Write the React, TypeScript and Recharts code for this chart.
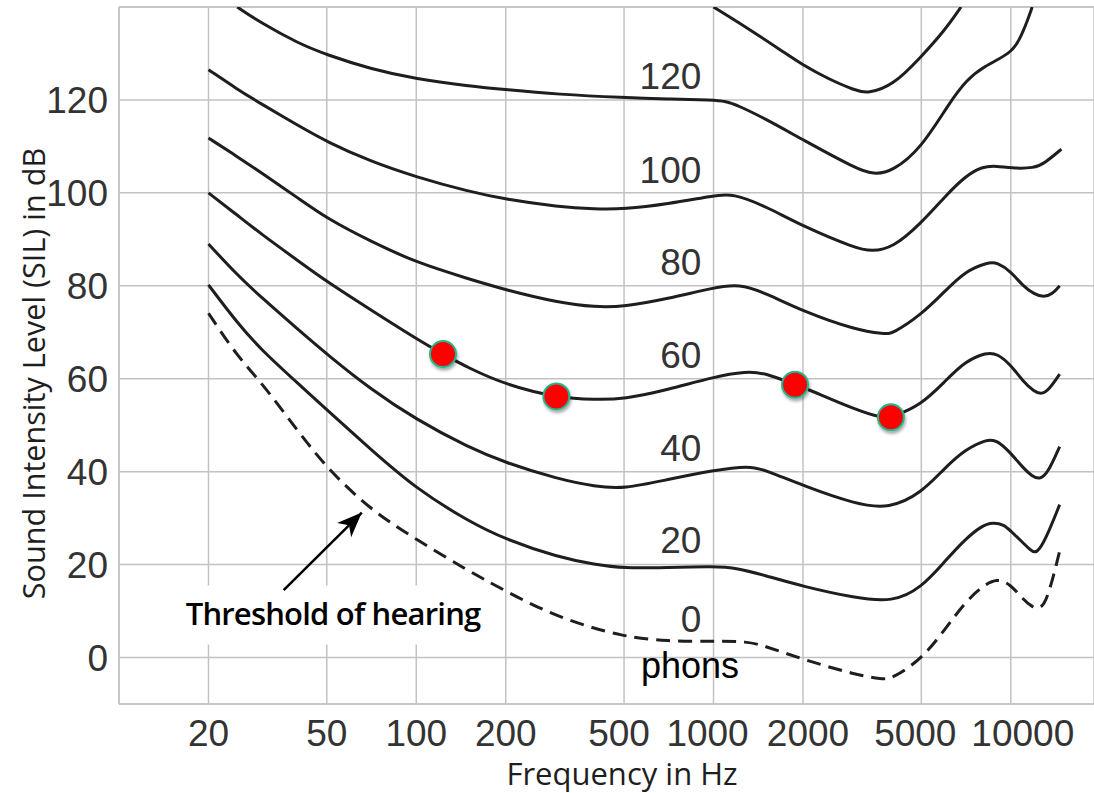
import {
  CartesianGrid,
  ComposedChart,
  Line,
  ReferenceArea,
  ReferenceLine,
  Scatter,
  XAxis,
  YAxis,
} from "recharts";

// frequency (Hz) and level (dB), one list per contour
const FREQ_TICKS = [20, 50, 100, 200, 500, 1000, 2000, 5000, 10000];
const DB_TICKS = [0, 20, 40, 60, 80, 100, 120];

const phon140: [number, number][] = [
  [1000, 140], [1300, 135.5], [1750, 130], [2000, 127.5], [2400, 124.7], [3000, 122],
  [3300, 121.4], [4000, 123], [5000, 129.3], [6000, 135], [6800, 140],
];
const phon120: [number, number][] = [
  [25, 140], [30, 136.6], [40, 132.2], [50, 129.7], [70, 126.7], [100, 124.5], [150, 123],
  [200, 122.2], [300, 121.2], [500, 120.5], [700, 120.2], [1000, 120], [1100, 119.7],
  [1200, 118.9], [1500, 115.9], [2000, 111.4], [3000, 105.3], [3450, 103.9], [4000, 104.6],
  [5000, 109.6], [6200, 119.3], [7100, 124.3], [8100, 127.2], [10000, 130], [10700, 132.9],
  [11400, 137.2], [11800, 140],
];
const phon100: [number, number][] = [
  [20, 126.5], [25, 122.3], [30, 119.2], [40, 114.5], [50, 111], [70, 106.8], [100, 103.4],
  [150, 100.3], [200, 98.6], [300, 97], [400, 96.5], [500, 96.5], [700, 97.6], [1000, 99.4],
  [1160, 99.9], [1500, 97.1], [2000, 92.8], [3000, 88.1], [3400, 87.4], [4000, 88.1],
  [5000, 93.5], [6000, 99.2], [7000, 103.5], [8000, 105.7], [9000, 105.8], [10000, 105.3],
  [12000, 105.3], [13000, 106.4], [14800, 109.4],
];
const phon80: [number, number][] = [
  [20, 111.8], [25, 107.8], [30, 104.4], [40, 98.9], [50, 94.5], [70, 89.6], [100, 85],
  [150, 81.5], [200, 79.1], [300, 76.4], [400, 75.4], [500, 75.5], [700, 77.2], [1000, 79.6],
  [1220, 80.4], [1500, 78.4], [2000, 74.5], [3000, 70.5], [3770, 69.6], [4000, 69.7],
  [5000, 73.8], [6000, 78.8], [7000, 83.1], [8400, 85.1], [9000, 85], [10000, 83.1],
  [11000, 79.9], [12000, 78.2], [12900, 77.5], [13800, 78.2], [14600, 80],
];
const phon60: [number, number][] = [
  [20, 100], [25, 95.2], [30, 91.2], [40, 85.4], [50, 80.9], [70, 74.9], [100, 68.6],
  [123, 65.3], [150, 62.3], [200, 58.7], [300, 55.9], [400, 55.5], [500, 55.6], [700, 57.6],
  [1000, 60.4], [1290, 61.6], [1500, 61.2], [1880, 58.7], [2000, 58.2], [3000, 53.3],
  [3700, 51.5], [4000, 51.8], [5000, 54.4], [6000, 59.4], [7000, 63.7], [8300, 65.7],
  [9000, 65.4], [10000, 63], [11000, 59.4], [12000, 57.2], [12700, 56.6], [13500, 57.8],
  [14600, 61],
];
const phon40: [number, number][] = [
  [20, 89], [25, 82.3], [30, 77.6], [40, 70.6], [50, 65.3], [70, 57.8], [100, 51.2],
  [150, 45.2], [200, 41.9], [300, 38.4], [400, 36.8], [500, 36.3], [700, 38.3], [1000, 40.3],
  [1320, 41.3], [1500, 40.3], [2000, 37], [3000, 33], [3900, 32], [5000, 35.4], [6000, 40.8],
  [7000, 44.7], [8300, 47], [9000, 46.8], [10000, 44], [11000, 40.8], [11800, 39],
  [12500, 38.3], [13300, 39.6], [14600, 45.4],
];
const phon20: [number, number][] = [
  [20, 80.2], [25, 72], [30, 66.3], [40, 59], [50, 53.3], [70, 44.9], [100, 36.3], [150, 29.3],
  [200, 25.4], [300, 21.6], [400, 20], [500, 19.2], [700, 19.4], [1000, 19.6], [1200, 19.3],
  [1500, 17.6], [2000, 15.3], [3000, 12.8], [4000, 11.9], [5000, 15], [6000, 20.7],
  [7000, 25.4], [8000, 28.4], [8700, 29.1], [9500, 28.6], [10000, 27.2], [11000, 24.7],
  [11600, 23.2], [12200, 22.2], [13100, 25.4], [14600, 32.9],
];
const threshold: [number, number][] = [
  [20, 74.1], [25, 64.8], [30, 59.4], [40, 48.7], [50, 40.8], [70, 31.8], [100, 25.4],
  [150, 18.6], [200, 14.3], [300, 8.5], [500, 4.4], [700, 3.5], [1000, 3.5], [1300, 3.5],
  [1500, 2.4], [2000, -0.4], [3000, -3.7], [3700, -4.7], [4000, -4.5], [5000, -0.4], [6000, 6],
  [7000, 11.8], [8000, 15.3], [9000, 17.1], [10000, 15.7], [11000, 12.5], [11800, 10.9],
  [12500, 10.3], [13300, 12.5], [14600, 22.9],
];

const SOLID_CURVES = [phon140, phon120, phon100, phon80, phon60, phon40, phon20];

// contour names written next to the curves, at ~910 Hz
const PHON_LABELS = ["120", "100", "80", "60", "40", "20", "0"];
const PHON_LABEL_DB = [122.3, 102.2, 82.4, 62.3, 42.4, 22.5, 5.4];
const PHON_LABEL_FREQ = 910;

// highlighted points on the 60 phon curve
const MARKED_FREQ = [123, 296, 1880, 3950];
const MARKED_DB = [65.3, 56.2, 58.7, 51.7];

// "Threshold of hearing" arrow: tail, tip
const ARROW: [number, number][] = [[35.8, 14.5], [65.6, 31.2]];

// the reference's frequency labels sit a little off their grid lines
const TICK_NUDGE: Record<number, number> = { 500: -5, 1000: -6, 2000: 5, 5000: -6, 10000: 12 };

const toPts = (pts: [number, number][]) => pts.map(([f, db]) => ({ f, db }));

const GRID = "#c2c2c2";
const INK = "#1e1e1e";
const NUM_FONT = "'Liberation Sans', Arial, sans-serif";
const TXT_FONT = "'Open Sans', sans-serif";

const ArrowHead = (props: any) => {
  const { cx, cy, index, points } = props;
  if (index !== 1 || cx == null) return <g key={`ah-${index}`} />;
  let angle = -45;
  if (points && points.length > 1) {
    angle = (Math.atan2(points[1].y - points[0].y, points[1].x - points[0].x) * 180) / Math.PI;
  }
  return (
    <path
      key={`ah-${index}`}
      d="M0,0 L-25,-10 L-18,0 L-25,10 Z"
      fill="#000"
      transform={`translate(${cx},${cy}) rotate(${angle})`}
    />
  );
};

const RedDot = (props: any) => (
  <circle
    cx={props.cx}
    cy={props.cy}
    r={13}
    fill="#ff0000"
    stroke="#22b88e"
    strokeWidth={2}
    filter="url(#dotShadow)"
  />
);

const PhonText = (props: any) => (
  <text x={props.cx} y={props.cy} textAnchor="end" fontFamily={NUM_FONT} fontSize={37} fill="#333">
    {props.payload.text}
  </text>
);

const FreqTick = (props: any) => {
  const { x, y, payload } = props;
  return (
    <text
      x={x + (TICK_NUDGE[payload.value] ?? 0)}
      y={y}
      dy="0.71em"
      textAnchor="middle"
      fontFamily={NUM_FONT}
      fontSize={37}
      fill="#333"
    >
      {payload.value}
    </text>
  );
};

const ThresholdLabel = (props: any) => {
  const vb = props.viewBox || { x: 0, y: 0 };
  return (
    <text
      x={vb.x + 6}
      y={vb.y + 39.5}
      fontFamily={TXT_FONT}
      fontWeight={600}
      fontSize={31}
      letterSpacing={-0.8}
      fill="#000"
    >
      Threshold of hearing
    </text>
  );
};

export default function App() {
  const labelData = PHON_LABELS.map((text, i) => ({ f: PHON_LABEL_FREQ, db: PHON_LABEL_DB[i], text }));
  const markData = MARKED_FREQ.map((f, i) => ({ f, db: MARKED_DB[i] }));

  return (
    <div style={{ position: "absolute", left: 0, top: 0, width: 1094, height: 793, background: "#fff" }}>
      <ComposedChart width={1094} height={793} margin={{ top: 7, right: 0, bottom: 0, left: 0 }}>
        <defs>
          <filter id="dotShadow" x="-50%" y="-50%" width="200%" height="200%">
            <feDropShadow dx="1" dy="2.5" stdDeviation="1.5" floodColor="#000" floodOpacity="0.35" />
          </filter>
        </defs>
        <CartesianGrid stroke={GRID} strokeWidth={1.5} />
        <XAxis
          dataKey="f"
          type="number"
          scale="log"
          domain={[10, 19050]}
          ticks={FREQ_TICKS}
          interval={0}
          allowDataOverflow
          height={89}
          tickLine={false}
          tickMargin={10}
          axisLine={{ stroke: GRID, strokeWidth: 1.5 }}
          tick={FreqTick}
        />
        <YAxis
          dataKey="db"
          type="number"
          domain={[-10, 140]}
          ticks={DB_TICKS}
          interval={0}
          allowDataOverflow
          width={119}
          tickLine={false}
          tickMargin={5}
          axisLine={{ stroke: GRID, strokeWidth: 1.5 }}
          tick={{ fill: "#333", fontSize: 37, fontFamily: NUM_FONT }}
        />
        <ReferenceLine y={140} stroke={GRID} strokeWidth={1.5} />
        <ReferenceArea
          x1={16}
          x2={176}
          y1={2.8}
          y2={15.5}
          fill="#fff"
          fillOpacity={1}
          stroke="none"
          label={ThresholdLabel}
        />

        {SOLID_CURVES.map((c, i) => (
          <Line
            key={i}
            data={toPts(c)}
            dataKey="db"
            type="basis"
            stroke={INK}
            strokeWidth={3}
            dot={false}
            activeDot={false}
            isAnimationActive={false}
          />
        ))}
        <Line
          data={toPts(threshold)}
          dataKey="db"
          type="basis"
          stroke={INK}
          strokeWidth={3}
          strokeDasharray="14 8"
          dot={false}
          activeDot={false}
          isAnimationActive={false}
        />
        <Line
          data={toPts(ARROW)}
          dataKey="db"
          type="linear"
          stroke="#000"
          strokeWidth={2.5}
          dot={ArrowHead}
          activeDot={false}
          isAnimationActive={false}
        />
        <Scatter data={labelData} dataKey="db" shape={PhonText} isAnimationActive={false} />
        <Scatter data={markData} dataKey="db" shape={RedDot} isAnimationActive={false} />

        <text x={690} y={678} textAnchor="middle" fontFamily={NUM_FONT} fontSize={36} fill="#000">
          phons
        </text>
        <text x={622} y={785} textAnchor="middle" fontFamily={TXT_FONT} fontSize={31} fill={INK}>
          Frequency in Hz
        </text>
        <text
          transform="rotate(-90)"
          x={-373.5}
          y={45}
          textAnchor="middle"
          fontFamily={TXT_FONT}
          fontSize={30.6}
          fill={INK}
        >
          Sound Intensity Level (SIL) in dB
        </text>
      </ComposedChart>
    </div>
  );
}
